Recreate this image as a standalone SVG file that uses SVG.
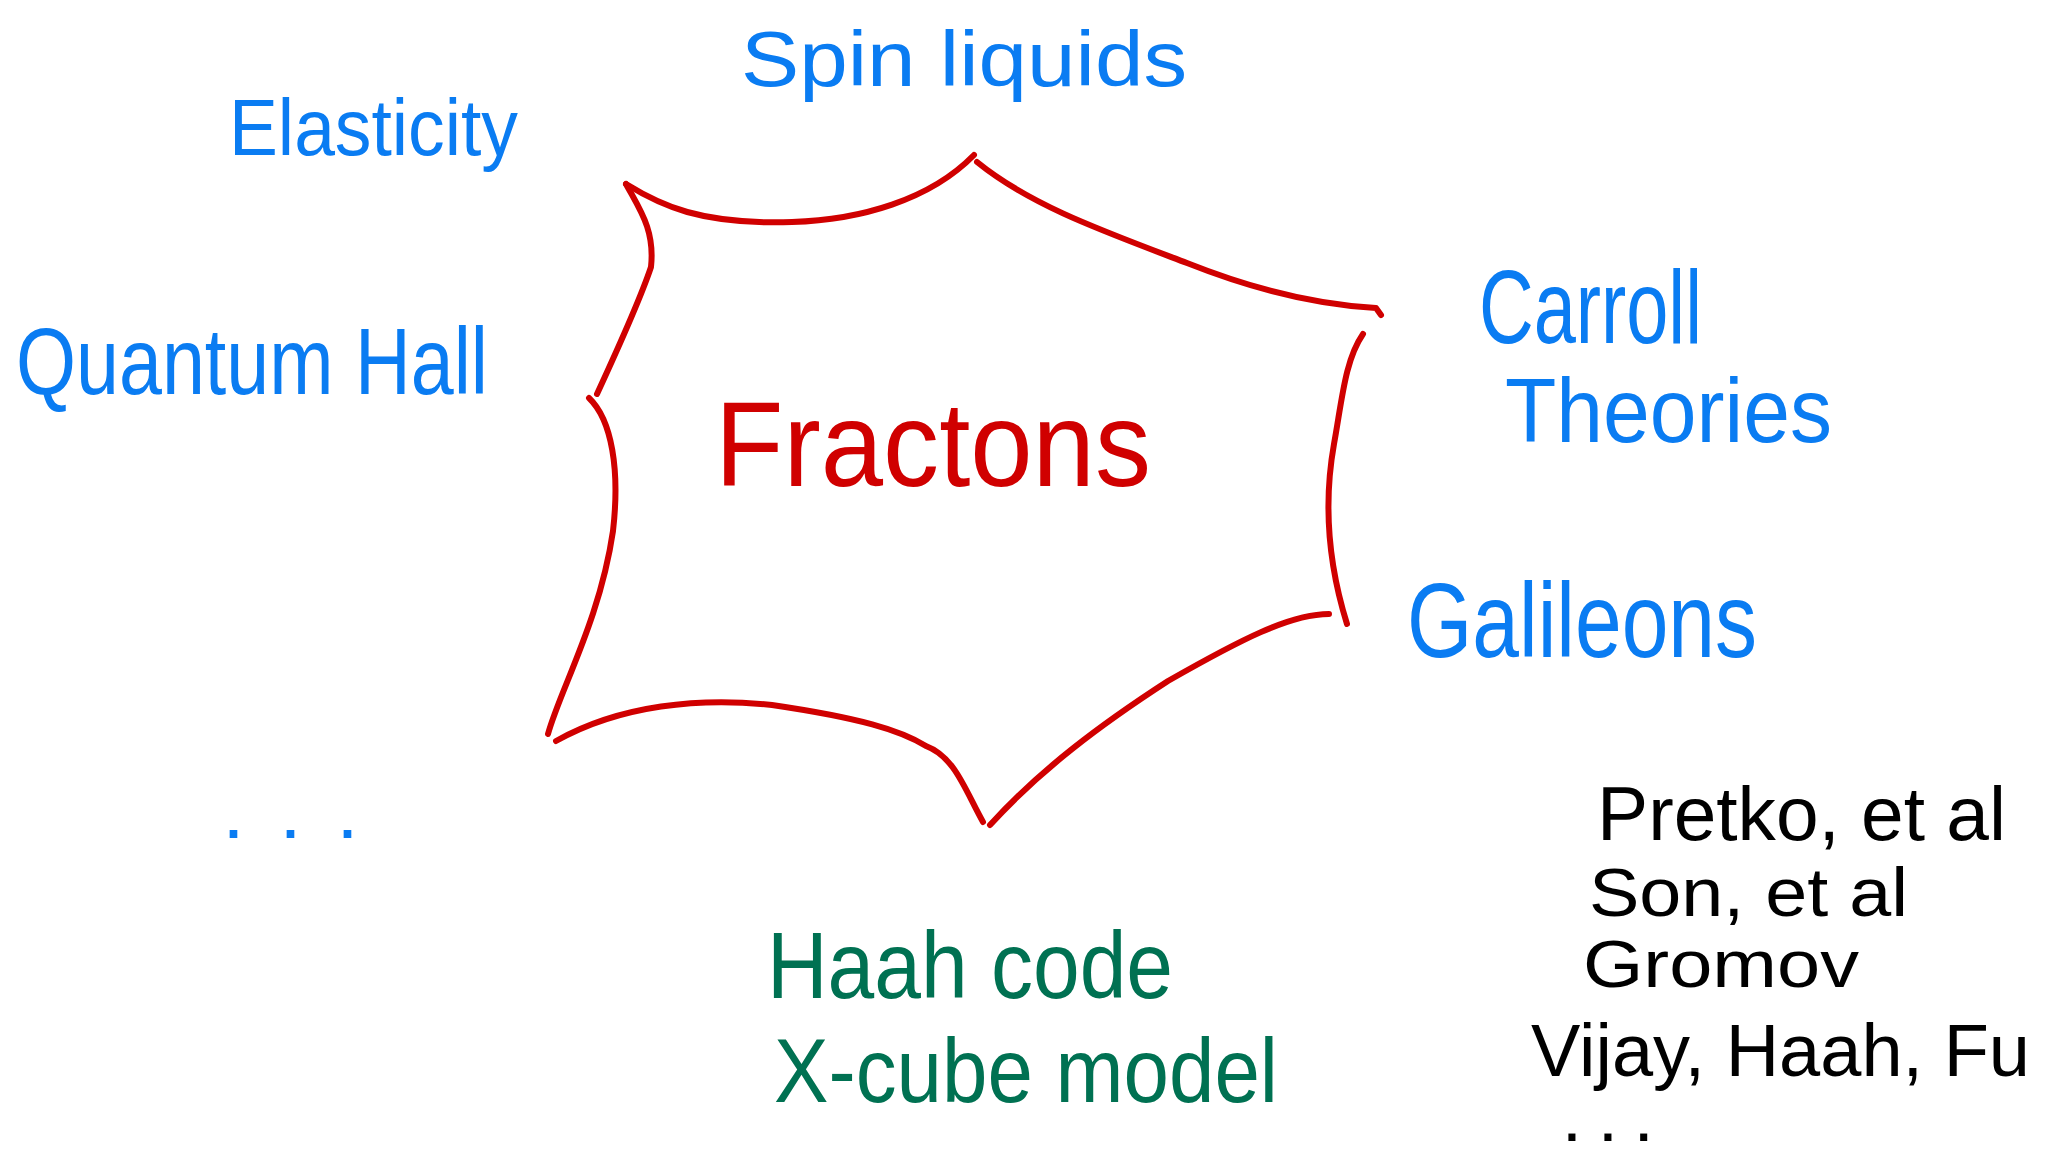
<svg xmlns="http://www.w3.org/2000/svg" width="2056" height="1152" viewBox="0 0 2056 1152">
<style>
text{font-family:"Liberation Sans","DejaVu Sans",sans-serif;}
.blue{fill:#0A7CF2;}
.green{fill:#007152;}
.black{fill:#000;}
.red{fill:#D00000;}
.edge{fill:none;stroke:#D00000;stroke-width:6;stroke-linecap:round;stroke-linejoin:round;}
</style>
<rect width="2056" height="1152" fill="#fff"/>
<g id="connectors">
<path class="edge" d="M626,184 C660,205 700,225 792,222 C860,220 930,200 974,155"/>
<path class="edge" d="M977,162 C1030,205 1100,230 1187,263 C1260,292 1320,305 1376,308 L1381,315"/>
<path class="edge" d="M1363,334 C1345,360 1342,400 1334,444 C1324,500 1327,560 1347,624"/>
<path class="edge" d="M1329,614 C1290,614 1240,640 1168,681 C1100,725 1040,770 990,825"/>
<path class="edge" d="M983,822 C965,790 955,757 926,746 C900,730 860,718 772,705 C700,697 620,705 556,741"/>
<path class="edge" d="M548,734 C560,690 600,620 613,531 C620,470 612,420 589,398"/>
<path class="edge" d="M597,394 C615,355 640,300 651,267 C655,230 640,210 626,184"/>
</g>
<g id="fractons"><text class="red" x="715" y="486" font-size="120" textLength="436" lengthAdjust="spacingAndGlyphs">Fractons</text></g>
<g id="spin-liquids"><text class="blue" x="741" y="86" font-size="78" textLength="446" lengthAdjust="spacingAndGlyphs">Spin liquids</text></g>
<g id="elasticity"><text class="blue" x="229" y="155" font-size="80" textLength="289" lengthAdjust="spacingAndGlyphs">Elasticity</text></g>
<g id="quantum-hall"><text class="blue" x="16" y="394" font-size="95" textLength="472" lengthAdjust="spacingAndGlyphs">Quantum Hall</text></g>
<g id="carroll"><text class="blue" x="1479" y="343" font-size="104" textLength="223" lengthAdjust="spacingAndGlyphs">Carroll</text>
<text class="blue" x="1505" y="442" font-size="90" textLength="327" lengthAdjust="spacingAndGlyphs">Theories</text></g>
<g id="galileons"><text class="blue" x="1407" y="657" font-size="105" textLength="350" lengthAdjust="spacingAndGlyphs">Galileons</text></g>
<g id="dots-blue"><text class="blue" x="226" y="838" font-size="54" font-weight="bold" letter-spacing="42">...</text></g>
<g id="haah-code"><text class="green" x="767" y="998" font-size="95" textLength="406" lengthAdjust="spacingAndGlyphs">Haah code</text>
<text class="green" x="774" y="1102" font-size="90" textLength="504" lengthAdjust="spacingAndGlyphs">X-cube model</text></g>
<g id="references">
<text class="black" x="1597" y="840" font-size="76" textLength="409" lengthAdjust="spacingAndGlyphs">Pretko, et al</text>
<text class="black" x="1589" y="916" font-size="68" textLength="319" lengthAdjust="spacingAndGlyphs">Son, et al</text>
<text class="black" x="1583" y="987" font-size="66" textLength="276" lengthAdjust="spacingAndGlyphs">Gromov</text>
<text class="black" x="1531" y="1076" font-size="75" textLength="499" lengthAdjust="spacingAndGlyphs">Vijay, Haah, Fu</text>
<text class="black" x="1565" y="1141" font-size="50" font-weight="bold" letter-spacing="22">...</text>
</g>
</svg>
